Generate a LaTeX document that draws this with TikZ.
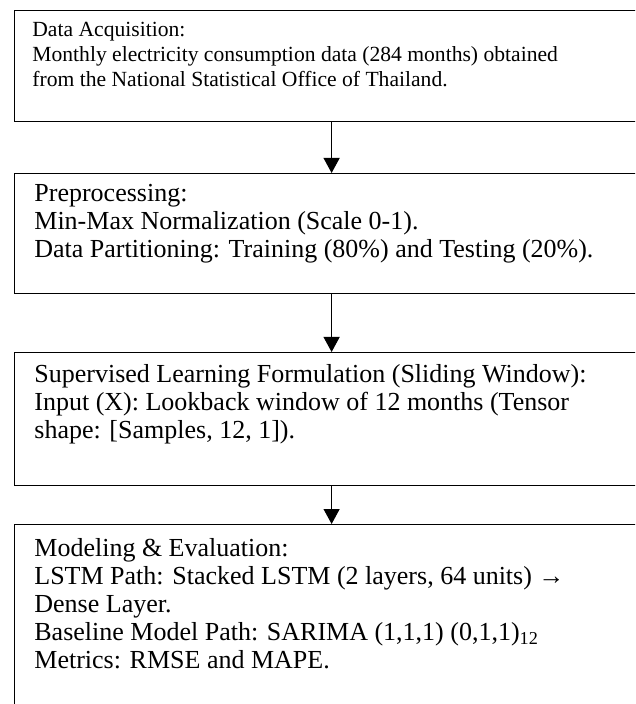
\documentclass[tikz,border=0pt]{standalone}
\usepackage{fontspec}
\setmainfont{Liberation Serif}
\usetikzlibrary{arrows.meta}

\begin{document}
\begin{tikzpicture}[x=0.5pt,y={(0pt,-0.5pt)},
    stagebox/.style={draw, line width=0.6pt, anchor=north west, inner sep=0pt,
      minimum width=317pt},
    stagetext/.style={anchor=north west, inner sep=0pt, align=left,
      font={\fontsize{13}{14}\selectfont}},
    flow/.style={line width=0.6pt, -{Triangle[length=7.5pt,width=8pt]}}]
        \useasboundingbox (0,0) rectangle (635,704);
        \clip (0,0) rectangle (635,704);
        % boxes
        \node[stagebox, minimum height=55.5pt] (acq) at (14,10) {};
        \node[stagebox, minimum height=60pt] (prep) at (14,173) {};
        \node[stagebox, minimum height=66.5pt] (window) at (14,352) {};
        \node[stagebox, minimum height=118pt] (model) at (14,524) {};
        % texts
        \node[stagetext, font={\fontsize{10.8}{12.5}\selectfont}] (acqtxt) at (32,22)
          {Data Acquisition:\\
           Monthly electricity consumption data (284 months) obtained\\
           from the National Statistical Office of Thailand.};
        \node[stagetext] (preptxt) at (34,184)
          {Preprocessing:\\
           Min-Max Normalization (Scale 0-1).\\
           Data Partitioning: Training (80\%) and Testing (20\%).};
        \node[stagetext] (windowtxt) at (34,364)
          {Supervised Learning Formulation (Sliding Window):\\
           Input (X): Lookback window of 12 months (Tensor\\
           shape: [Samples, 12, 1]).};
        \node[stagetext] (modeltxt) at (34,538)
          {Modeling \& Evaluation:\\
           LSTM Path: Stacked LSTM (2 layers, 64 units) →\\
           Dense Layer.\\
           Baseline Model Path: SARIMA (1,1,1) (0,1,1)\textsubscript{12}\\
           Metrics: RMSE and MAPE.};
        % arrows
        \draw[flow] (acq) -- (prep);
        \draw[flow] (prep) -- (window);
        \draw[flow] (window) -- (model);
\end{tikzpicture}
\end{document}
